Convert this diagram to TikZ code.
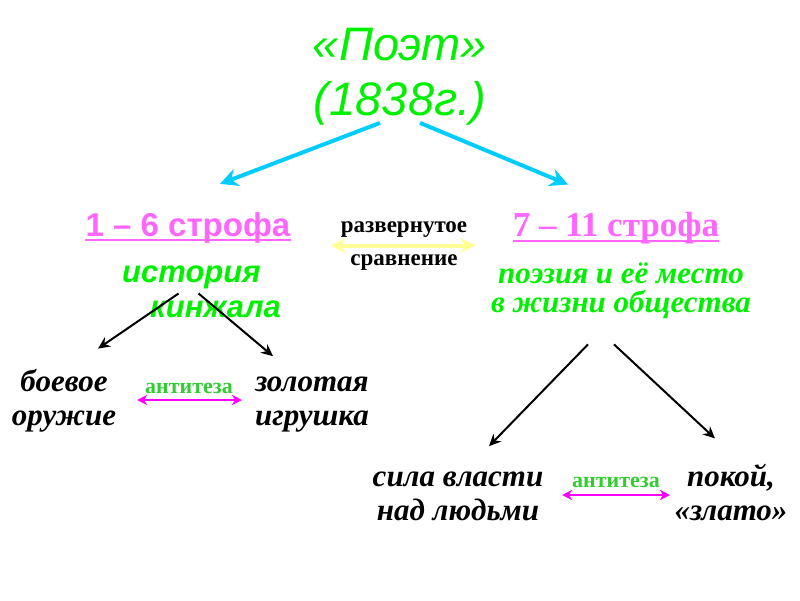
\documentclass[tikz,border=0pt]{standalone}
\usepackage{fontspec}
\setmainfont{Liberation Serif}
\newfontfamily\arialfont{Liberation Sans}
\usepackage{tikz}
\usetikzlibrary{positioning,arrows.meta}
\definecolor{litegreen}{RGB}{0,240,0}
\definecolor{antigreen}{RGB}{51,204,51}
\definecolor{partpink}{RGB}{255,102,255}
\definecolor{arrowblue}{RGB}{0,204,255}
\definecolor{cmpyellow}{RGB}{255,255,150}
\definecolor{antimag}{RGB}{255,0,255}

\begin{document}
\begin{tikzpicture}[x=1pt,y=-1pt,
        every node/.style={inner sep=0pt},
        title/.style={font=\arialfont\itshape\fontsize{47}{55}\selectfont,text=litegreen,align=center},
        partsans/.style={font=\arialfont\bfseries\fontsize{33}{36}\selectfont,text=partpink},
        partserif/.style={font=\bfseries\fontsize{35}{38}\selectfont,text=partpink},
        ideasans/.style={font=\arialfont\bfseries\itshape\fontsize{31}{35}\selectfont,text=litegreen,align=left},
        ideaserif/.style={font=\bfseries\itshape\fontsize{31}{29}\selectfont,text=litegreen,align=center},
        cmp/.style={font=\bfseries\fontsize{23}{33}\selectfont,align=center},
        pole/.style={font=\bfseries\itshape\fontsize{31}{34}\selectfont,align=center},
        anti/.style={font=\bfseries\fontsize{22}{24}\selectfont,text=antigreen},
        uline/.style={partpink,line width=2.5pt},
        bluearr/.style={-{Stealth[length=18pt,width=18pt,inset=6pt]},arrowblue,line width=4pt},
        blkarr/.style={-{Stealth[length=12pt,width=11pt,inset=4pt]},line width=2pt},
        yelarr/.style={{Stealth[length=15pt,width=15pt,inset=5pt]}-{Stealth[length=15pt,width=15pt,inset=5pt]},cmpyellow,line width=4pt},
        magarr/.style={{Stealth[length=10pt,width=10pt,inset=3pt]}-{Stealth[length=10pt,width=10pt,inset=3pt]},antimag,line width=2.5pt}]
        \useasboundingbox (0,0) rectangle (800,600);
        \node[title,anchor=base] (poet) at (400,115) {«Поэт»\\(1838г.)};
        \node[partsans,anchor=base] (str1) at (188,236) {1 – 6 строфа};
        \node[partserif,anchor=base] (str2) at (616,236) {7 – 11 строфа};
        \node[cmp,anchor=base] (cmp) at (404,265) {развернутое\\сравнение};
        \node[ideasans,anchor=base west] (ist) at (122,317) {история\\\hspace*{28pt}кинжала};
        \node[ideaserif,anchor=base] (poez) at (621,312) {поэзия и её место\\в жизни общества};
        \node[pole,anchor=base] (boev) at (64,425) {боевое\\оружие};
        \node[pole,anchor=base] (zol) at (312,425) {золотая\\игрушка};
        \node[anti,anchor=base] (anti1) at (189,393) {антитеза};
        \node[pole,anchor=base] (sila) at (458,520) {сила власти\\над людьми};
        \node[pole,anchor=base] (pok) at (731,520) {покой,\\«злато»};
        \node[anti,anchor=base] (anti2) at (616,487) {антитеза};
        \draw[uline] ([yshift=-4pt]str1.base west) -- ([yshift=-4pt]str1.base east);
        \draw[uline] ([yshift=-5pt]str2.base west) -- ([yshift=-5pt]str2.base east);
        \draw[bluearr] ([xshift=-20pt,yshift=2pt]poet.south) -- ([xshift=32pt,yshift=28pt]str1.north);
        \draw[bluearr] ([xshift=20pt,yshift=2pt]poet.south) -- ([xshift=-48pt,yshift=27pt]str2.north);
        \draw[yelarr] ([xshift=-10pt]cmp.west) -- ([xshift=8pt]cmp.east);
        \draw[blkarr] ([xshift=-23pt,yshift=24pt]ist.south) -- ([xshift=34pt,yshift=20pt]boev.north);
        \draw[blkarr] ([xshift=-3pt,yshift=24pt]ist.south) -- ([xshift=-39pt,yshift=20pt]zol.north);
        \draw[blkarr] ([xshift=-33pt,yshift=-26pt]poez.south) -- ([xshift=31pt,yshift=25pt]sila.north);
        \draw[blkarr] ([xshift=-7pt,yshift=-26pt]poez.south) -- ([xshift=-16pt,yshift=25pt]pok.north);
        \draw[magarr] ([xshift=-8pt,yshift=-7pt]anti1.base west) -- ([xshift=9pt,yshift=-7pt]anti1.base east);
        \draw[magarr] ([xshift=-10pt,yshift=-8pt]anti2.base west) -- ([xshift=10pt,yshift=-8pt]anti2.base east);
    \end{tikzpicture}
\end{document}
